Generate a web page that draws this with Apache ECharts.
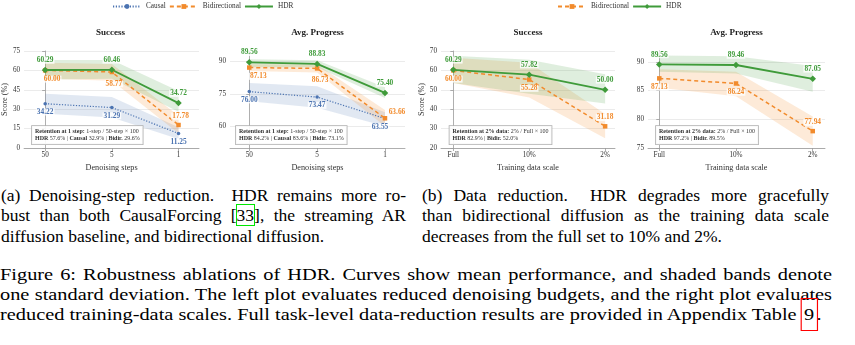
<!DOCTYPE html>
<html>
<head>
<meta charset="utf-8">
<script src="https://cdn.jsdelivr.net/npm/echarts@6/dist/echarts.min.js"></script>
<style>
  html, body { margin: 0; padding: 0; background: #fff; }
  #wrap { position: relative; width: 855px; height: 345px; overflow: hidden; }
  #chart { position: absolute; left: 0; top: 0; width: 855px; height: 180px; }
  .cap { position: absolute; font-family: "Times New Roman", "Liberation Serif", Tinos, Times, serif; color: #000; }
  .sub { font-size: 17.5px; line-height: 20.3px; }
  .fig { font-size: 17.5px; line-height: 20px; transform-origin: 0 0; }
  .j { text-align: justify; text-align-last: justify; }
  .lg { outline: 1.3px solid #00e600; }
  .lr { outline: 1.3px solid #ff0000; padding: 5px 2px 6px 2px; }
</style>
</head>
<body>
<div id="wrap">
  <div id="chart"></div>
  <div class="cap sub" style="left:1px; top:185px; width:405px;">
    <div class="j">(a) Denoising-step reduction.&nbsp; HDR remains more ro-</div>
    <div class="j">bust than both CausalForcing [<span class="lg">33</span>], the streaming AR</div>
    <div>diffusion baseline, and bidirectional diffusion.</div>
  </div>
  <div class="cap sub" style="left:422px; top:185px; width:407px;">
    <div class="j">(b) Data reduction.&nbsp; HDR degrades more gracefully</div>
    <div class="j">than bidirectional diffusion as the training data scale</div>
    <div>decreases from the full set to 10% and 2%.</div>
  </div>
  <div class="cap fig" style="left:0px; top:264px; width:716px; transform:scaleX(1.162);">
    <div class="j">Figure 6: Robustness ablations of HDR. Curves show mean performance, and shaded bands denote</div>
    <div class="j">one standard deviation. The left plot evaluates reduced denoising budgets, and the right plot evaluates</div>
    <div>reduced training-data scales. Full task-level data-reduction results are provided in Appendix Table <span class="lr">9</span>.</div>
  </div>
</div>
<script>
// categories
const stepCats = ['50', '5', '1'];
const dataCats = ['Full', '10%', '2%'];

// (a) denoising steps - Success
const stepSuccHDR = [60.29, 60.46, 34.72];
const stepSuccHDRLo = [53, 53.5, 28];
const stepSuccHDRHi = [68, 68, 44];
const stepSuccBidir = [60.00, 58.77, 17.78];
const stepSuccBidirLo = [53.5, 52, 11.5];
const stepSuccBidirHi = [66, 65, 25];
const stepSuccCausal = [34.22, 31.29, 11.25];
const stepSuccCausalLo = [26.5, 23.5, 7];
const stepSuccCausalHi = [42, 39.5, 16];
const stepSuccRet = ['57.6%', '32.9%', '29.6%']; // HDR, Causal, Bidir.

// (a) denoising steps - Avg. Progress
const stepProgHDR = [89.56, 88.83, 75.40];
const stepProgHDRLo = [87.3, 87.3, 73];
const stepProgHDRHi = [91, 90.5, 78];
const stepProgBidir = [87.13, 86.73, 63.66];
const stepProgBidirLo = [85.5, 84.8, 60];
const stepProgBidirHi = [88.7, 88.5, 67.5];
const stepProgCausal = [76.00, 73.47, 63.55];
const stepProgCausalLo = [71.5, 68.5, 60];
const stepProgCausalHi = [80, 78.5, 66.5];
const stepProgRet = ['84.2%', '83.6%', '73.1%'];

// (b) data scale - Success
const dataSuccHDR = [60.29, 57.82, 50.00];
const dataSuccHDRLo = [53.5, 48, 43];
const dataSuccHDRHi = [67.5, 65.5, 58];
const dataSuccBidir = [60.00, 55.28, 31.18];
const dataSuccBidirLo = [53.5, 46, 25];
const dataSuccBidirHi = [66.5, 64, 37.5];
const dataSuccRet = ['82.9%', '52.0%']; // HDR, Bidir.

// (b) data scale - Avg. Progress
const dataProgHDR = [89.56, 89.46, 87.05];
const dataProgHDRLo = [88.3, 88, 84.8];
const dataProgHDRHi = [91.1, 91, 89.3];
const dataProgBidir = [87.13, 86.24, 77.94];
const dataProgBidirLo = [85.5, 84, 75.4];
const dataProgBidirHi = [88.7, 88.3, 80.5];
const dataProgRet = ['97.2%', '89.5%'];

// y tick labels
const stepSuccTicks = [0, 15, 30, 45, 60, 75];
const stepProgTicks = [60, 75, 90];
const dataSuccTicks = [20, 30, 40, 50, 60, 70];
const dataProgTicks = [75, 80, 85, 90];

const FONT = '"Times New Roman", "Liberation Serif", Tinos, serif';
const STYLE = {
  HDR: { color: '#3f9b3a', band: 'rgba(80,160,70,0.18)', line: 'solid', width: 1.8, symbol: 'diamond', size: 6.5, short: 'HDR' },
  Bidirectional: { color: '#f28b2c', band: 'rgba(245,150,60,0.2)', line: [4, 3], width: 1.5, symbol: 'rect', size: 4.5, short: 'Bidir.' },
  Causal: { color: '#4b73b1', band: 'rgba(80,120,180,0.17)', line: [1.2, 1.6], width: 1.2, symbol: 'circle', size: 3.5, short: 'Causal' }
};
const AXIS_GREY = '#9a9a9a';
const BOX_FS = 6;

const panels = [
  {
    title: 'Success', cats: stepCats, xName: 'Denoising steps', yName: 'Score (%)',
    left: 22, width: 177, xMin: -0.316, xMax: 2.307, yMin: 0, yMax: 75, ticks: stepSuccTicks,
    lines: {
      Causal: [stepSuccCausal, stepSuccCausalLo, stepSuccCausalHi],
      Bidirectional: [stepSuccBidir, stepSuccBidirLo, stepSuccBidirHi],
      HDR: [stepSuccHDR, stepSuccHDRLo, stepSuccHDRHi]
    },
    shift: { Bidirectional: [[7, 0], [2, 3], [2, 0]] },
    box: { x: 32, head: 'Retention at 1 step:', rule: ' 1-step / 50-step × 100', order: ['HDR', 'Causal', 'Bidirectional'], ret: stepSuccRet }
  },
  {
    title: 'Avg. Progress', cats: stepCats, xName: 'Denoising steps', yName: '',
    left: 230, width: 175, xMin: -0.284, xMax: 2.295, yMin: 49.9, yMax: 94.8, ticks: stepProgTicks,
    lines: {
      Causal: [stepProgCausal, stepProgCausalLo, stepProgCausalHi],
      Bidirectional: [stepProgBidir, stepProgBidirLo, stepProgBidirHi],
      HDR: [stepProgHDR, stepProgHDRLo, stepProgHDRHi]
    },
    shift: { Bidirectional: [[9, 0], [3, 3], [12, 3]], Causal: [[0, 0], [0, 0], [-5, 0]] },
    box: { x: 236, head: 'Retention at 1 step:', rule: ' 1-step / 50-step × 100', order: ['HDR', 'Causal', 'Bidirectional'], ret: stepProgRet }
  },
  {
    title: 'Success', cats: dataCats, xName: 'Training data scale', yName: 'Score (%)',
    left: 441, width: 174, xMin: -0.162, xMax: 2.13, yMin: 20, yMax: 70, ticks: dataSuccTicks,
    lines: {
      Bidirectional: [dataSuccBidir, dataSuccBidirLo, dataSuccBidirHi],
      HDR: [dataSuccHDR, dataSuccHDRLo, dataSuccHDRHi]
    },
    shift: {},
    box: { x: 449.5, head: 'Retention at 2% data:', rule: ' 2% / Full × 100', order: ['HDR', 'Bidirectional'], ret: dataSuccRet }
  },
  {
    title: 'Avg. Progress', cats: dataCats, xName: 'Training data scale', yName: '',
    left: 648, width: 177, xMin: -0.147, xMax: 2.16, yMin: 75, yMax: 91.9, ticks: dataProgTicks,
    lines: {
      Bidirectional: [dataProgBidir, dataProgBidirLo, dataProgBidirHi],
      HDR: [dataProgHDR, dataProgHDRLo, dataProgHDRHi]
    },
    shift: {},
    box: { x: 656, head: 'Retention at 2% data:', rule: ' 2% / Full × 100', order: ['HDR', 'Bidirectional'], ret: dataProgRet }
  }
];

const grids = [], xAxes = [], yAxes = [], series = [], graphic = [];
const boxRich = {
  b: { fontFamily: FONT, fontSize: BOX_FS, fontWeight: 'bold', color: '#222' },
  n: { fontFamily: FONT, fontSize: BOX_FS, color: '#333' },
  HDR: { fontFamily: FONT, fontSize: BOX_FS, fontWeight: 'bold', color: STYLE.HDR.color },
  Causal: { fontFamily: FONT, fontSize: BOX_FS, fontWeight: 'bold', color: STYLE.Causal.color },
  Bidirectional: { fontFamily: FONT, fontSize: BOX_FS, fontWeight: 'bold', color: STYLE.Bidirectional.color }
};

function labelFor(p, name, k) {
  const up = name === 'HDR' || (name === 'Bidirectional' && k === 2);
  const sh = (p.shift[name] || [])[k] || [0, 0];
  return { position: up ? 'top' : 'bottom', distance: 3, offset: sh };
}

// shaded std band: one polygon through hi points then back along lo points
function bandSeries(i, lo, hi, fill) {
  return {
    type: 'custom', xAxisIndex: i, yAxisIndex: i, silent: true, z: 1,
    data: lo.map((v, k) => [k, v, hi[k]]),
    renderItem: (params, api) => {
      if (params.dataIndex !== 0) return;
      const top = hi.map((v, k) => api.coord([k, v]));
      const bot = lo.map((v, k) => api.coord([k, v])).reverse();
      return { type: 'polygon', shape: { points: top.concat(bot) }, style: { fill: fill } };
    }
  };
}

panels.forEach((p, i) => {
  grids.push({ left: p.left, width: p.width, top: 51, height: 97 });
  xAxes.push({
    gridIndex: i, type: 'value', min: p.xMin, max: p.xMax,
    name: p.xName, nameLocation: 'middle', nameGap: 14,
    nameTextStyle: { fontFamily: FONT, fontSize: 8.2, color: '#333' },
    axisLine: { lineStyle: { color: AXIS_GREY, width: 0.8 } },
    axisTick: { customValues: [0, 1, 2], length: 3, lineStyle: { color: AXIS_GREY, width: 0.8 } },
    axisLabel: { customValues: [0, 1, 2], formatter: v => p.cats[Math.round(v)], fontFamily: FONT, fontSize: 7.2, color: '#333', margin: 4 },
    splitLine: { show: false }
  });
  yAxes.push({
    gridIndex: i, type: 'value', min: p.yMin, max: p.yMax,
    name: p.yName, nameLocation: 'middle', nameGap: 12, nameRotate: 90,
    nameTextStyle: { fontFamily: FONT, fontSize: 8.2, color: '#333' },
    axisLine: { show: true, lineStyle: { color: AXIS_GREY, width: 0.8 } },
    axisTick: { show: true, customValues: p.ticks, length: 3, lineStyle: { color: AXIS_GREY, width: 0.8 } },
    axisLabel: { customValues: p.ticks, fontFamily: FONT, fontSize: 7.2, color: '#333', margin: 4 },
    splitLine: { show: true, lineStyle: { color: '#e6e6e6', width: 0.8 } }
  });

  Object.keys(p.lines).forEach(name => {
    const [, lo, hi] = p.lines[name];
    series.push(bandSeries(i, lo, hi, STYLE[name].band));
  });
  Object.keys(p.lines).forEach(name => {
    const vals = p.lines[name][0];
    const st = STYLE[name];
    series.push({
      name: name, type: 'line', xAxisIndex: i, yAxisIndex: i, z: 3,
      data: vals.map((v, k) => ({ value: [k, v], label: labelFor(p, name, k) })),
      symbol: st.symbol, symbolSize: st.size,
      itemStyle: { color: st.color },
      lineStyle: { color: st.color, width: st.width, type: st.line },
      label: {
        show: true, formatter: d => d.value[1].toFixed(2),
        fontFamily: FONT, fontSize: 7.4, fontWeight: 'bold', color: st.color,
        backgroundColor: 'rgba(255,255,255,0.8)', padding: [0, 1]
      },
      emphasis: { disabled: true }
    });
  });

  graphic.push({
    type: 'text', x: p.left + p.width / 2, y: 33, z: 10,
    style: { text: p.title, align: 'center', verticalAlign: 'middle', fontFamily: FONT, fontSize: 9, fontWeight: 'bold', fill: '#222' }
  });

  const b = p.box;
  const parts = b.order.map((nm, k) => '{' + nm + '|' + STYLE[nm].short + '}{n| ' + b.ret[k] + '}');
  graphic.push({
    type: 'text', x: b.x, y: 126, z: 20,
    style: {
      text: '{b|' + b.head + '}{n|' + b.rule + '}\n' + parts.join('{n| | }'),
      rich: boxRich, fontFamily: FONT, fontSize: BOX_FS, lineHeight: 7.6, fill: '#333',
      backgroundColor: 'rgba(255,255,255,0.9)', borderColor: '#b0b0b0', borderWidth: 0.8, padding: [1.5, 3]
    }
  });
});

const legendBase = {
  top: 3, itemWidth: 28, itemHeight: 6, itemGap: 3, padding: 0,
  textStyle: { fontFamily: FONT, fontSize: 7.3, color: '#333' }
};

const chart = echarts.init(document.getElementById('chart'));
chart.setOption({
  animation: false,
  legend: [
    Object.assign({ data: ['Causal', 'Bidirectional', 'HDR'], left: 112 }, legendBase),
    Object.assign({ data: ['Bidirectional', 'HDR'], left: 557 }, legendBase)
  ],
  grid: grids,
  xAxis: xAxes,
  yAxis: yAxes,
  series: series,
  graphic: graphic
});
</script>
</body>
</html>
